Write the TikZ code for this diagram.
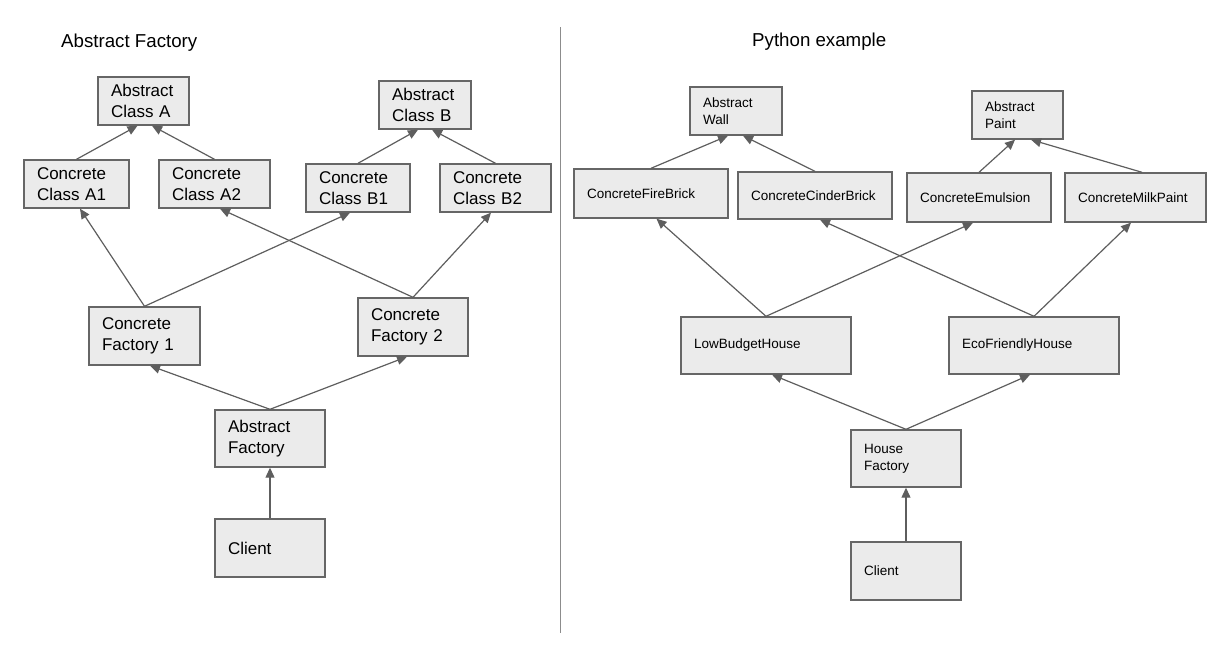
\documentclass[tikz,border=0pt]{standalone}
\usepackage{fontspec}
\setmainfont{Liberation Sans}
\usetikzlibrary{arrows.meta}

\definecolor{boxfill}{HTML}{EBEBEB}
\definecolor{boxline}{HTML}{666666}
\definecolor{arrowgray}{HTML}{5E5E5E}
\definecolor{divgray}{HTML}{8C8C8C}

\tikzset{
  cls/.style={draw=boxline, fill=boxfill, line width=1.4pt, align=left, inner xsep=13pt, inner ysep=0pt},
  box/.style 2 args={minimum width=#1, minimum height=#2, text width=#1-26pt},
  big/.style={font=\fontsize{17}{21}\selectfont},
  small/.style={font=\fontsize{13.5}{17}\selectfont},
  heading/.style={font=\fontsize{18.7}{22}\selectfont, inner sep=0pt, anchor=base west},
  arr/.style={-{Triangle[length=10pt,width=9pt]}, line width=1.2pt, draw=arrowgray}
}

\begin{document}
\begin{tikzpicture}[x=1pt, y=-1pt]
  \useasboundingbox (0,0) rectangle (1218,656);

  % headings and divider
  \node[heading] (leftTitle) at (61,47) {Abstract Factory};
  \node[heading] (rightTitle) at (752,46) {Python example};
  \draw[divgray, line width=1.3pt] (560.5,27) -- (560.5,633);

  % left: generic pattern
  \node[cls, big, box={91}{48}] (absA) at (143.5,101) {Abstract\\Class A};
  \node[cls, big, box={92}{48}] (absB) at (425,105) {Abstract\\Class B};
  \node[cls, big, box={105}{48}] (conA1) at (76.5,184) {Concrete\\Class A1};
  \node[cls, big, box={111}{48}] (conA2) at (214.5,184) {Concrete\\Class A2};
  \node[cls, big, box={104}{48}] (conB1) at (358,188) {Concrete\\Class B1};
  \node[cls, big, box={111}{48}] (conB2) at (495.5,188) {Concrete\\Class B2};
  \node[cls, big, box={111}{58}] (fac1) at (144.5,336) {Concrete\\Factory 1};
  \node[cls, big, box={110}{58}] (fac2) at (413,327) {Concrete\\Factory 2};
  \node[cls, big, box={110}{57}] (absF) at (270,438.5) {Abstract\\Factory};
  \node[cls, big, box={110}{58}] (client) at (270,548) {Client};

  % right: python example
  \node[cls, small, box={92}{48}] (wall) at (736,111) {Abstract\\Wall};
  \node[cls, small, box={91}{48}] (paint) at (1017.5,115) {Abstract\\Paint};
  \node[cls, small, box={154}{49}] (fire) at (651,193.5) {ConcreteFireBrick};
  \node[cls, small, box={154}{47}] (cinder) at (815,195.5) {ConcreteCinderBrick};
  \node[cls, small, box={144}{49}] (emul) at (979,197.5) {ConcreteEmulsion};
  \node[cls, small, box={141}{49}] (milk) at (1135.5,197.5) {ConcreteMilkPaint};
  \node[cls, small, box={170}{57}] (low) at (766,345.5) {LowBudgetHouse};
  \node[cls, small, box={170}{57}] (eco) at (1034,345.5) {EcoFriendlyHouse};
  \node[cls, small, box={110}{57}] (house) at (906,458.5) {House\\Factory};
  \node[cls, small, box={110}{58}] (client2) at (906,571) {Client};

  % inheritance / usage arrows
  \foreach \from/\to/\dx in {conA1/absA/-6, conA2/absA/8.5, conB1/absB/-7, conB2/absB/7,
      fac1/conA1/3.5, fac1/conB1/-8, fac2/conA2/5.5, fac2/conB2/-4.5,
      absF/fac1/5.5, absF/fac2/-6, client/absF/0,
      fire/wall/-8, cinder/wall/7, emul/paint/-2.5,
      low/fire/5.5, low/emul/-6, eco/cinder/5, eco/milk/-4.5,
      house/low/6, house/eco/-4, client2/house/0}
    \draw[arr] (\from.north) -- ([xshift=\dx]\to.south);
  \draw[arr] ([xshift=6.5]milk.north) -- ([xshift=13.5]paint.south);
\end{tikzpicture}
\end{document}
